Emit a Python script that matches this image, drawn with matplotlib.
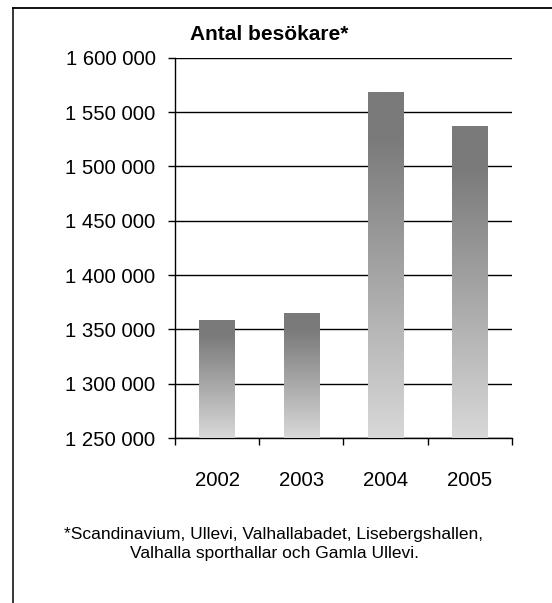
import numpy as np
import matplotlib
matplotlib.use("Agg")
import matplotlib.pyplot as plt
from matplotlib.ticker import FuncFormatter, FixedLocator
from matplotlib.lines import Line2D

plt.rcParams['font.family'] = ['Liberation Sans', 'DejaVu Sans']

# Visitor numbers per year.
years = ["2002", "2003", "2004", "2005"]
visitors = [1359000, 1365000, 1568000, 1537000]

title = "Antal besökare*"
footnote = ("*Scandinavium, Ullevi, Valhallabadet, Lisebergshallen,\n"
            "Valhalla sporthallar och Gamla Ullevi.")

fig = plt.figure(figsize=(5.52, 6.03), dpi=100)
ax = fig.add_axes([0.317, 0.2736, 0.6105, 0.6307])

x = np.arange(len(years))
bars = ax.bar(x, visitors, width=0.42, color="none", zorder=3)

# Vertical grey gradient inside every bar, dark at top and light at bottom.
grad = np.linspace(0, 1, 256).reshape(-1, 1)
grad = np.clip(grad * 1.15, 0, 1)
cmap = matplotlib.colors.LinearSegmentedColormap.from_list(
    "g", ["#d8d8d8", "#7a7a7a"])
for b in bars:
    x0, y0 = b.get_x(), b.get_y()
    x1, y1 = x0 + b.get_width(), y0 + b.get_height()
    im = ax.imshow(grad, extent=[x0, x1, 1250000, y1], origin="lower",
                   cmap=cmap, vmin=0, vmax=1, aspect="auto", zorder=3)
    im.set_clip_path(b)

ax.set_xlim(-0.5, len(years) - 0.5)
ax.set_ylim(1250000, 1600000)
ax.set_yticks(np.arange(1250000, 1600001, 50000))
ax.yaxis.set_major_formatter(FuncFormatter(
    lambda v, p: f"{int(v):,}".replace(",", " ")))
ax.grid(axis="y", color="black", linewidth=1, zorder=1)
ax.set_axisbelow(True)

ax.set_xticks(x)
ax.set_xticklabels(years)
ax.xaxis.set_minor_locator(FixedLocator(np.arange(-0.5, len(years), 1.0)))
ax.tick_params(axis="x", which="major", length=0, pad=24, labelsize=14.7)
ax.tick_params(axis="x", which="minor", length=5, width=1, direction="out")
ax.tick_params(axis="y", length=5, width=1, direction="out", pad=9,
               labelsize=14.7)

for side in ["top", "right"]:
    ax.spines[side].set_visible(False)
ax.spines["left"].set_linewidth(1)
ax.spines["bottom"].set_linewidth(1)

fig.text(269 / 552, 1 - 35 / 603, title, ha="center", va="center",
         fontsize=15, fontweight="bold")
fig.text(274 / 552, 1 - 544 / 603, footnote, ha="center", va="center",
         fontsize=12.5, linespacing=1.35)

# Outer frame (top and left edges visible in the crop).
fx0, fy0 = 12.5 / 552, 1 - 7.5 / 603
fig.add_artist(Line2D([fx0, 1], [fy0, fy0], color="black", lw=1.3,
                      transform=fig.transFigure))
fig.add_artist(Line2D([fx0, fx0], [fy0, 0], color="black", lw=1.1,
                      transform=fig.transFigure))

fig.savefig("out.png", dpi=100)
